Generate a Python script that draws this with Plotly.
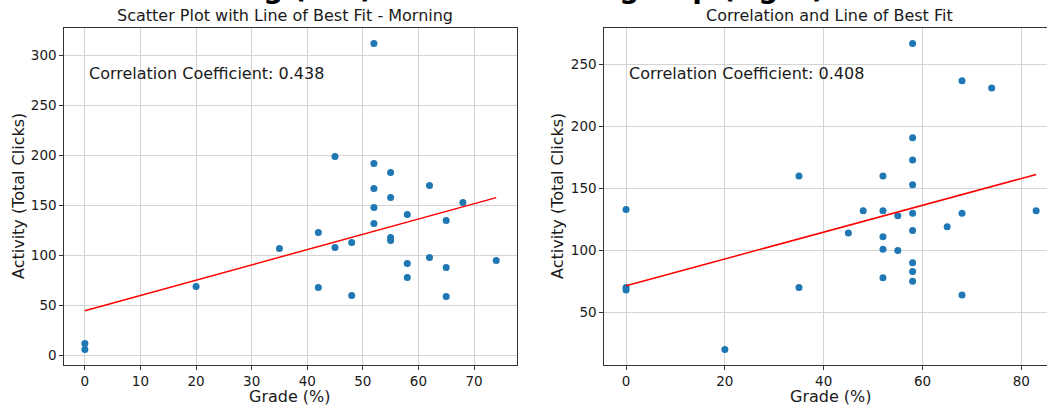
import numpy as np
import plotly.graph_objects as go

# ---------------- data ----------------
morning_grade = [0, 0, 20, 35, 42, 42, 45, 45, 48, 48, 52, 52, 52, 52, 52,
                 55, 55, 55, 55, 58, 58, 58, 62, 62, 65, 65, 65, 68, 74]
morning_clicks = [12, 6, 69, 107, 123, 68, 199, 108, 113, 60, 312, 192, 167, 148, 132,
                  183, 158, 118, 115, 141, 92, 78, 170, 98, 135, 88, 59, 153, 95]

evening_grade = [0, 0, 0, 20, 35, 35, 45, 48, 52, 52, 52, 52, 52, 55, 55,
                 58, 58, 58, 58, 58, 58, 58, 58, 58, 65, 68, 68, 68, 74, 83]
evening_clicks = [133, 70, 68, 20, 160, 70, 114, 132, 160, 132, 111, 101, 78, 128, 100,
                  267, 191, 173, 153, 130, 116, 90, 83, 75, 119, 237, 130, 64, 231, 132]

left_title = "Scatter Plot with Line of Best Fit - Morning"
right_title = "Correlation and Line of Best Fit"
left_corr_text = "Correlation Coefficient: 0.438"
right_corr_text = "Correlation Coefficient: 0.408"
x_label = "Grade (%)"
y_label = "Activity (Total Clicks)"
sup_title = "Comparison of Activity vs Grade: Morning (left) and Afternoon group (right)"

left_xticks = [0, 10, 20, 30, 40, 50, 60, 70]
left_yticks = [0, 50, 100, 150, 200, 250, 300]
right_xticks = [0, 20, 40, 60, 80]
right_yticks = [50, 100, 150, 200, 250]

# ---------------- figure ----------------
W, H = 1047, 407
BLUE = "#1f77b4"
FONT = "DejaVu Sans"
TXT = "#1a1a1a"


def fit_line(x, y):
    x = np.asarray(x, float)
    y = np.asarray(y, float)
    m, b = np.polyfit(x, y, 1)
    xs = np.array([x.min(), x.max()])
    return xs, m * xs + b


fig = go.Figure()

lx, ly = fit_line(morning_grade, morning_clicks)
rx, ry = fit_line(evening_grade, evening_clicks)

fig.add_trace(go.Scatter(x=morning_grade, y=morning_clicks, mode="markers",
                         marker=dict(color=BLUE, size=7), xaxis="x", yaxis="y",
                         showlegend=False))
fig.add_trace(go.Scatter(x=lx, y=ly, mode="lines", line=dict(color="red", width=1.5),
                         xaxis="x", yaxis="y", showlegend=False))
fig.add_trace(go.Scatter(x=evening_grade, y=evening_clicks, mode="markers",
                         marker=dict(color=BLUE, size=7), xaxis="x2", yaxis="y2",
                         showlegend=False))
fig.add_trace(go.Scatter(x=rx, y=ry, mode="lines", line=dict(color="red", width=1.5),
                         xaxis="x2", yaxis="y2", showlegend=False))

ydom = [(H - 364.8) / H, (H - 28.2) / H]
axis_common = dict(showgrid=True, gridcolor="#d4d4d4", gridwidth=1, zeroline=False,
                   showline=True, linecolor="#333333", linewidth=1,
                   ticks="outside", ticklen=4, tickcolor="#333333", tickwidth=1,
                   tickfont=dict(family=FONT, size=13.5, color=TXT))

fig.update_layout(
    width=W, height=H,
    margin=dict(l=0, r=0, t=0, b=0),
    paper_bgcolor="white", plot_bgcolor="white",
    xaxis=dict(domain=[64.3 / W, 516.8 / W], range=[-3.7, 77.7], tickvals=left_xticks,
               mirror=True, anchor="y", **axis_common),
    yaxis=dict(domain=ydom, range=[-9.3, 327.3], tickvals=left_yticks,
               mirror=True, anchor="x", **axis_common),
    xaxis2=dict(domain=[604.3 / W, 1.0], range=[-4.4, 85.2], tickvals=right_xticks,
                mirror=True, anchor="y2", **axis_common),
    yaxis2=dict(domain=ydom, range=[7.65, 279.35], tickvals=right_yticks,
                mirror=False, anchor="x2", **axis_common),
)


def px_x(p):
    return p / W


def px_y(p):
    return (H - p) / H


annots = [
    dict(text=left_title, x=px_x(285), y=px_y(16), size=16),
    dict(text=right_title, x=px_x(829), y=px_y(16), size=16),
    dict(text=x_label, x=px_x(290), y=px_y(396), size=16),
    dict(text=x_label, x=px_x(831), y=px_y(396), size=16),
]
for a in annots:
    fig.add_annotation(text=a["text"], x=a["x"], y=a["y"], xref="paper", yref="paper",
                       xanchor="center", yanchor="middle", showarrow=False,
                       font=dict(family=FONT, size=a["size"], color=TXT))

for txt, xp in [(left_corr_text, 86.5), (right_corr_text, 626.5)]:
    fig.add_annotation(text=txt, x=px_x(xp), y=px_y(73), xref="paper", yref="paper",
                       xanchor="left", yanchor="middle", showarrow=False,
                       font=dict(family=FONT, size=16, color=TXT))

for xp in [18, 557]:
    fig.add_annotation(text=y_label, x=px_x(xp), y=px_y(196), xref="paper", yref="paper",
                       xanchor="center", yanchor="middle", showarrow=False, textangle=-90,
                       font=dict(family=FONT, size=16, color=TXT))

fig.add_annotation(text="<b>" + sup_title + "</b>", x=826 / W, y=1, xref="paper", yref="paper",
                   xanchor="right", yanchor="bottom", yshift=-7, showarrow=False,
                   font=dict(family=FONT, size=28, color="black"))

fig.write_html("out.html", config={"displayModeBar": False},
               post_script="document.body.style.margin='0';")
